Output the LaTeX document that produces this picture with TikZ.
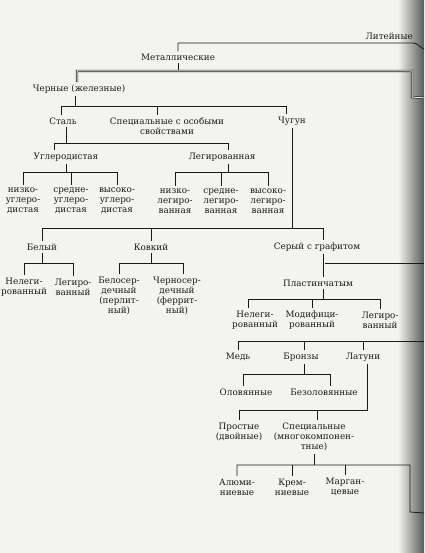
\documentclass[tikz,border=0pt]{standalone}
\usepackage{fontspec}
\usepackage{xcolor}
\usepackage{tikz}
\newfontfamily\bookfont{DejaVu Serif}
\definecolor{paper}{RGB}{243,243,240}
\definecolor{ink}{RGB}{25,25,25}

\begin{document}
\begin{tikzpicture}[x=1pt,y=-1pt]
\tikzstyle{lbl}=[inner xsep=1pt,inner ysep=2.5pt,align=center,text=ink,font=\bookfont\fontsize{8.8}{10.2}\selectfont]
\tikzstyle{ln}=[ink,line width=0.8pt]
\tikzstyle{dbl}=[ink,line width=0.7pt,double=paper,double distance=1pt]
\useasboundingbox (0,0) rectangle (424,553);
\fill[paper] (0,0) rectangle (424,553);
\shade[left color=paper,right color=black!65] (398,0) rectangle (424,553);

\node[lbl,anchor=east](lit) at (414,36) {Литейные};
\node[lbl](met) at (178,57) {Металлические};
\node[lbl](cher) at (79,89) {Черные (железные)};
\node[lbl](stal) at (63,121) {Сталь};
\node[lbl](spec) at (167,126) {Специальные с особыми\\свойствами};
\node[lbl](chug) at (292,121) {Чугун};
\node[lbl](ugl) at (66,157) {Углеродистая};
\node[lbl](leg) at (222,157) {Легированная};
\node[lbl](nu) at (23,201) {низко-\\углеро-\\дистая};
\node[lbl](su) at (71,201) {средне-\\углеро-\\дистая};
\node[lbl](vu) at (117,201) {высоко-\\углеро-\\дистая};
\node[lbl](nl) at (175,201) {низко-\\легиро-\\ванная};
\node[lbl](sl) at (221,201) {средне-\\легиро-\\ванная};
\node[lbl](vl) at (268,201) {высоко-\\легиро-\\ванная};
\node[lbl](bel) at (42,247) {Белый};
\node[lbl](kov) at (151,247) {Ковкий};
\node[lbl](ser) at (317,247) {Серый с графитом};
\node[lbl](bnel) at (24,287) {Нелеги-\\рованный};
\node[lbl](bleg) at (73,287) {Легиро-\\ванный};
\node[lbl](belos) at (119,296) {Белосер-\\дечный\\(перлит-\\ный)};
\node[lbl](chern) at (177,296) {Черносер-\\дечный\\(феррит-\\ный)};
\node[lbl](plast) at (318,283) {Пластинчатым};
\node[lbl](pnel) at (255,320) {Нелеги-\\рованный};
\node[lbl](pmod) at (312,320) {Модифици-\\рованный};
\node[lbl](pleg) at (380,320) {Легиро-\\ванный};
\node[lbl](med) at (238,357) {Медь};
\node[lbl](bron) at (301,357) {Бронзы};
\node[lbl](lat) at (363,357) {Латуни};
\node[lbl](olov) at (246,392) {Оловянные};
\node[lbl](bezol) at (324,392) {Безоловянные};
\node[lbl](prost) at (239,432) {Простые\\(двойные)};
\node[lbl](specl) at (314,437) {Специальные\\(многокомпонен-\\тные)};
\node[lbl](alum) at (237,487) {Алюми-\\ниевые};
\node[lbl](krem) at (292,487) {Крем-\\ниевые};
\node[lbl](marg) at (345,487) {Марган-\\цевые};

\coordinate (xr) at (424,0);
\coordinate (e1) at (413,43);
\coordinate (e1o) at (424,49);
\coordinate (e2) at (412,71);
\coordinate (e2d) at (412,97);
\coordinate (e2o) at (424,98);
\coordinate (r3) at (0,106);
\coordinate (r4) at (0,143);
\coordinate (r5) at (0,172);
\coordinate (r6) at (0,228);
\coordinate (r7) at (0,263);
\coordinate (r8) at (0,299);
\coordinate (r9) at (0,341);
\coordinate (r10) at (0,374);
\coordinate (r11) at (0,410);
\coordinate (e12) at (410,465);
\coordinate (e12d) at (410,512);
\coordinate (e12o) at (424,513);

\draw[ln] (met.north) -- (met.north |- e1) -- (e1) to[out=0,in=160] (e1o);
\draw[ln] (met.south) -- (met.south |- e2);
\draw[dbl] ([xshift=-2pt]cher.north) -- ([xshift=-2pt]cher.north |- e2) -- (e2) -- (e2d) -- (e2o);
\draw[dbl] ([xshift=-3pt]cher.south) -- ([xshift=-3pt]cher.south |- r3);

\draw[ln] ([xshift=-2pt]stal.north) |- ([xshift=-6pt]chug.north |- r3) -- ([xshift=-6pt]chug.north);
\draw[ln] ([xshift=-10pt]spec.north) -- ([xshift=-10pt]spec.north |- r3);
\draw[ln] ([xshift=3pt]stal.south) -- ([xshift=3pt]stal.south |- r4);
\draw[ln] ([xshift=-12pt]ugl.north) |- ([xshift=6pt]leg.north |- r4) -- ([xshift=6pt]leg.north);

\draw[ln] (ugl.south) -- (ugl.south |- r5);
\draw[ln] (nu.north) |- (vu.north |- r5) -- (vu.north);
\draw[ln] (su.north) -- (su.north |- r5);
\draw[ln] ([xshift=6pt]leg.south) -- ([xshift=6pt]leg.south |- r5);
\draw[ln] (nl.north) |- (vl.north |- r5) -- (vl.north);
\draw[ln] (sl.north) -- (sl.north |- r5);

\draw[ln] (chug.south) -- (chug.south |- r6);
\draw[ln] (bel.north) |- ([xshift=6pt]ser.north |- r6) -- ([xshift=6pt]ser.north);
\draw[ln] (kov.north) -- (kov.north |- r6);

\draw[ln] (bel.south) -- (bel.south |- r7);
\draw[ln] (bnel.north) |- (bleg.north |- r7) -- (bleg.north);
\draw[ln] (kov.south) -- (kov.south |- r7);
\draw[ln] (belos.north) |- ([xshift=6pt]chern.north |- r7) -- ([xshift=6pt]chern.north);
\draw[ln] ([xshift=6pt]ser.south) -- ([xshift=6pt]ser.south |- plast.north);
\draw[ln] ([xshift=8pt]ser.south |- r7) -- (xr |- r7);

\draw[ln] ([xshift=5pt]plast.south) -- ([xshift=5pt]plast.south |- r8);
\draw[ln] ([xshift=-7pt]pnel.north) |- (pleg.north |- r8) -- (pleg.north);
\draw[ln] (pmod.north) -- (pmod.north |- r8);

\draw[ln] (med.north) |- (xr |- r9);
\draw[ln] ([xshift=3pt]bron.north) -- ([xshift=3pt]bron.north |- r9);
\draw[ln] (lat.north) -- (lat.north |- r9);

\draw[ln] ([xshift=3pt]bron.south) -- ([xshift=3pt]bron.south |- r10);
\draw[ln] ([xshift=-3pt]olov.north) |- ([xshift=6pt]bezol.north |- r10) -- ([xshift=6pt]bezol.north);
\draw[ln] ([xshift=4pt]lat.south) -- ([xshift=4pt]lat.south |- r11) -| (prost.north);
\draw[ln] ([xshift=3pt]specl.north) -- ([xshift=3pt]specl.north |- r11);

\draw[ln] (specl.south) -- (specl.south |- e12);
\draw[ln] (alum.north) |- (e12) -- (e12d) -- (e12o);
\draw[ln] (krem.north) -- (krem.north |- e12);
\draw[ln] (marg.north) -- (marg.north |- e12);
\end{tikzpicture}
\end{document}
